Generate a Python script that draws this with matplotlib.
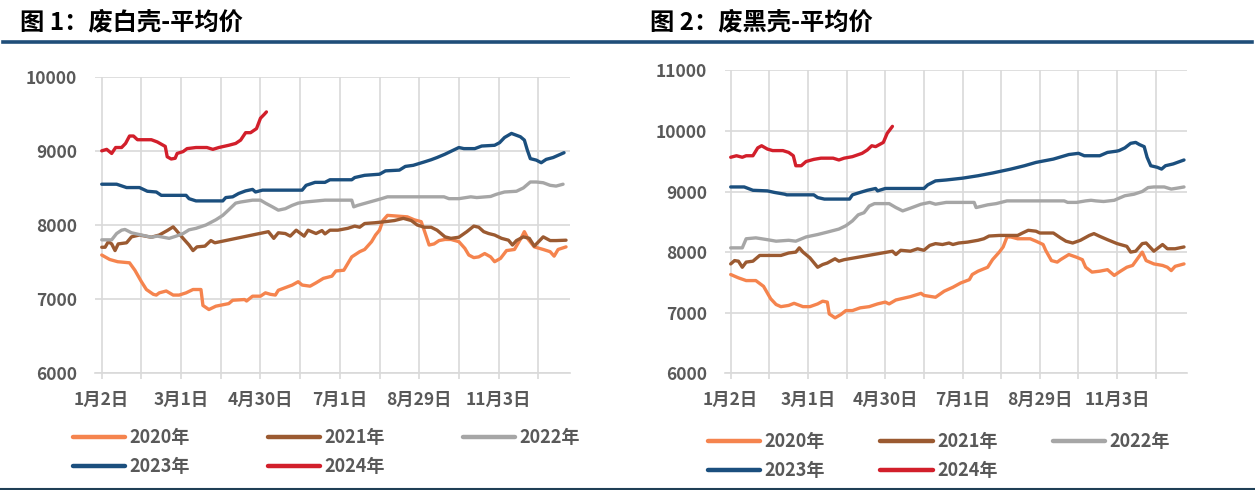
import matplotlib
matplotlib.use("Agg")
import matplotlib.pyplot as plt
from matplotlib.lines import Line2D
from matplotlib.ticker import MultipleLocator, FixedLocator

plt.rcParams['font.family'] = ['Noto Sans CJK SC', 'DejaVu Sans']

# ---------------- data ----------------
years = ['2020年', '2021年', '2022年', '2023年', '2024年']
colors = ['#F5844E', '#9B5A31', '#A6A6A6', '#1B4F7E', '#D21F2B']

tick_pos = [0, 40, 80, 120, 160, 200]
tick_labels = ['1月2日', '3月1日', '4月30日', '7月1日', '8月29日', '11月3日']

# 图1 废白壳 (left)
w2020_x = [0, 4, 8, 14, 16.7, 20, 22.5, 26, 27.5, 29, 32.5, 36, 39, 42.5, 46, 50, 51, 54, 57.5, 64, 66, 72, 73, 76, 80,
           82.5, 85, 87.5, 89, 96, 99, 101, 105, 108, 111.7, 116, 118, 122, 124, 126, 130, 132.5, 136, 138, 140, 141.7,
           144, 154, 157.5, 161, 162.5, 165, 167.5, 170, 173, 176, 180, 183, 185, 187.5, 190, 193, 196, 198, 201, 204,
           208, 211.7, 213, 215, 218, 222.5, 226, 228, 230, 234]
w2020_y = [7595, 7535, 7505, 7490, 7390, 7235, 7130, 7065, 7055, 7085, 7110, 7055, 7055, 7085, 7130, 7130, 6915, 6860,
           6905, 6940, 6985, 6995, 6975, 7040, 7040, 7085, 7065, 7055, 7120, 7190, 7235, 7190, 7175, 7220, 7280, 7310,
           7380, 7390, 7480, 7570, 7640, 7670, 7775, 7865, 7930, 8060, 8130, 8110, 8070, 8045, 7930, 7730, 7745, 7790,
           7805, 7805, 7775, 7685, 7595, 7560, 7570, 7615, 7570, 7505, 7550, 7655, 7670, 7840, 7910, 7805, 7705, 7670,
           7640, 7580, 7670, 7705]

w2021_x = [0, 1.7, 3.3, 5, 6.7, 8.3, 12.5, 15, 19, 25, 29, 33, 36, 37.5, 41, 44, 46, 48, 52, 55, 57, 84, 86.7, 89, 92.5,
           95, 98, 102, 104, 108, 111, 112.5, 115, 119, 124, 127.5, 130, 132.5, 137.5, 143, 147.5, 152, 156, 159, 162.5,
           166, 169, 173, 176, 180, 184, 187.5, 190, 192.5, 195, 198, 201.5, 205, 207, 209, 212.5, 215.5, 218, 222.5,
           226, 229, 234]
w2021_y = [7700, 7700, 7775, 7745, 7655, 7745, 7760, 7840, 7865, 7835, 7865, 7925, 7975, 7930, 7820, 7730, 7655, 7705,
           7715, 7790, 7760, 7910, 7820, 7895, 7885, 7850, 7930, 7850, 7930, 7885, 7925, 7880, 7930, 7930, 7955, 7985,
           7970, 8020, 8030, 8045, 8060, 8090, 8060, 8000, 7970, 7970, 7930, 7840, 7820, 7835, 7910, 7985, 7970, 7910,
           7885, 7865, 7820, 7795, 7730, 7790, 7840, 7820, 7715, 7840, 7790, 7790, 7795]

w2022_x = [0, 5, 7.5, 10, 11.7, 15, 20, 25, 28, 34, 37.5, 41, 44, 47.5, 52.5, 57.5, 61, 64, 67.5, 70, 76, 80, 82.5, 86,
           89, 92.5, 96, 99, 102.5, 112.5, 126, 127, 129, 133, 137, 141, 144, 172.5, 175, 180, 186, 189, 196, 199, 203,
           209, 212.5, 216, 219, 222.5, 226, 229, 232.5]
w2022_y = [7800, 7800, 7885, 7930, 7940, 7895, 7865, 7835, 7850, 7820, 7850, 7885, 7935, 7955, 8000, 8070, 8130, 8205,
           8295, 8310, 8335, 8335, 8295, 8245, 8200, 8220, 8265, 8295, 8310, 8335, 8335, 8245, 8265, 8295, 8325, 8355,
           8380, 8380, 8355, 8355, 8380, 8370, 8385, 8415, 8445, 8455, 8500, 8580, 8580, 8570, 8535, 8525, 8550]

w2023_x = [0, 7.5, 12.5, 19, 23, 27.5, 30, 42.5, 44, 47.5, 61, 62.5, 66, 69, 72.5, 76, 77.5, 81, 101, 103, 107.5, 112.5,
           115, 126, 127.5, 132.5, 140, 143, 150, 153, 157, 162.5, 166, 169, 173, 180, 182.5, 188, 191.5, 198, 200.5,
           203, 206.5, 209, 211, 213, 214.5, 216, 219, 221.5, 224, 227.5, 233]
w2023_y = [8550, 8550, 8505, 8505, 8455, 8445, 8400, 8400, 8355, 8325, 8325, 8370, 8380, 8425, 8460, 8480, 8445, 8470,
           8470, 8535, 8575, 8575, 8610, 8610, 8640, 8670, 8685, 8730, 8740, 8790, 8805, 8850, 8880, 8910, 8955, 9045,
           9030, 9030, 9065, 9075, 9110, 9180, 9235, 9210, 9190, 9145, 9010, 8895, 8875, 8840, 8885, 8910, 8975]

w2024_x = [0, 2.5, 5, 7, 10, 12, 14, 16, 18, 25, 28, 32, 33, 35, 37, 38, 41, 43, 47.5, 53, 56, 59, 64, 67.5, 70, 72.5,
           75, 78, 80, 82, 83]
w2024_y = [9000, 9020, 8965, 9045, 9045, 9100, 9200, 9200, 9150, 9150, 9120, 9060, 8920, 8890, 8900, 8965, 8990, 9030,
           9045, 9045, 9020, 9045, 9075, 9100, 9145, 9245, 9245, 9300, 9440, 9495, 9525]

# 图2 废黑壳 (right)
b2020_x = [0, 4, 8, 13, 17, 20.7, 23.5, 26, 30, 32.8, 37.4, 41, 45, 47.6, 50, 51, 54, 57, 59.6, 63, 67, 71.7, 76, 80,
           82, 85.5, 93, 98.5, 100, 106, 110.5, 115, 119, 123.5, 125, 128, 133, 135.5, 139, 141, 143, 145, 148.5, 155,
           158, 161.7, 163, 166, 169, 170.7, 173.5, 175, 179, 182, 183.7, 187, 191, 195, 198.5, 201, 205, 208, 210.5,
           213, 215, 219, 223.5, 226, 228, 230, 234.6]
b2020_y = [7630, 7575, 7530, 7530, 7435, 7230, 7135, 7100, 7120, 7155, 7100, 7100, 7145, 7190, 7175, 6980, 6915, 6970,
           7035, 7035, 7080, 7100, 7145, 7175, 7145, 7210, 7265, 7320, 7285, 7255, 7355, 7420, 7490, 7545, 7630, 7685,
           7750, 7875, 8000, 8085, 8250, 8250, 8220, 8220, 8180, 8125, 8030, 7860, 7835, 7875, 7930, 7960, 7915, 7875,
           7750, 7670, 7685, 7710, 7615, 7670, 7750, 7780, 7890, 8000, 7860, 7805, 7780, 7750, 7695, 7765, 7805]

b2021_x = [0, 2, 4, 6, 8, 11.5, 15, 19, 26, 30, 33.7, 35.5, 37.4, 41, 45, 47.6, 50, 54, 56, 58.7, 83.7, 85.5, 88, 93,
           96.7, 100, 103, 106, 109.6, 113, 115, 118, 122.6, 128, 131, 133.7, 139, 148.5, 151, 154, 158, 160, 167, 170.7,
           173.5, 177, 181, 185.6, 188, 191, 195, 200, 205, 207, 209.6, 213, 215, 219, 223.5, 226, 230, 234.6]
b2021_y = [7805, 7860, 7850, 7750, 7835, 7850, 7945, 7945, 7945, 7985, 8000, 8070, 8000, 7905, 7750, 7795, 7820, 7890,
           7850, 7875, 8015, 7960, 8030, 8015, 8055, 8030, 8110, 8140, 8125, 8150, 8125, 8150, 8165, 8195, 8220, 8265,
           8275, 8275, 8315, 8360, 8345, 8315, 8315, 8235, 8180, 8150, 8195, 8275, 8305, 8260, 8205, 8140, 8095, 8000,
           8015, 8140, 8150, 8015, 8125, 8055, 8055, 8085]

b2022_x = [0, 6, 8, 13, 19, 23.5, 30, 33.7, 39, 45, 50, 56, 59.6, 63, 66, 69, 71.7, 74.4, 82, 85.5, 89, 93, 98.5, 103,
           106, 111.5, 126, 127, 133, 137.4, 143, 172.6, 174.4, 179, 183.7, 186.5, 189, 193, 198.5, 201, 204, 208.7,
           213, 216, 219, 224.4, 228, 231, 234.6]
b2022_y = [8070, 8070, 8220, 8235, 8205, 8180, 8195, 8180, 8250, 8290, 8330, 8380, 8435, 8515, 8615, 8650, 8760, 8800,
           8800, 8735, 8680, 8725, 8790, 8820, 8790, 8820, 8820, 8735, 8780, 8800, 8845, 8845, 8820, 8820, 8845, 8855,
           8845, 8835, 8855, 8890, 8930, 8955, 9000, 9065, 9075, 9075, 9040, 9055, 9075]

b2023_x = [0, 7, 11.5, 19, 22.6, 28, 29, 43, 45, 48.5, 61.5, 63, 67, 70.7, 75, 76, 80, 100, 102, 106, 111.5, 120, 128,
           135.5, 145, 152, 158, 167, 175, 180, 183, 191, 195, 199.6, 201, 204, 207, 209.6, 211.5, 214, 215.5, 217.4,
           220.7, 223, 225, 229, 234.6]
b2023_y = [9075, 9075, 9020, 9010, 8985, 8955, 8945, 8945, 8900, 8875, 8875, 8945, 8985, 9020, 9050, 9010, 9050, 9050,
           9110, 9175, 9190, 9220, 9260, 9305, 9370, 9425, 9480, 9535, 9610, 9630, 9590, 9590, 9645, 9665, 9675, 9720,
           9795, 9810, 9775, 9740, 9565, 9425, 9400, 9370, 9425, 9455, 9520]

b2024_x = [0, 3, 6, 8, 11.5, 14, 16, 19, 21.7, 27, 30, 32.4, 33.7, 36.5, 39, 43, 46.7, 53, 56, 58.7, 63, 68, 70.7, 73,
           75, 79, 81, 83.7]
b2024_y = [9565, 9590, 9565, 9590, 9590, 9720, 9755, 9700, 9675, 9675, 9645, 9590, 9425, 9425, 9495, 9530, 9550, 9550,
           9520, 9550, 9575, 9630, 9685, 9755, 9740, 9810, 9960, 10075]

white_x = [w2020_x, w2021_x, w2022_x, w2023_x, w2024_x]
white_y = [w2020_y, w2021_y, w2022_y, w2023_y, w2024_y]
black_x = [b2020_x, b2021_x, b2022_x, b2023_x, b2024_x]
black_y = [b2020_y, b2021_y, b2022_y, b2023_y, b2024_y]

# ---------------- figure ----------------
W, H = 1255, 490
fig = plt.figure(figsize=(W / 100, H / 100), dpi=100)
fig.patch.set_facecolor('white')

TXT = '#595959'
GRID = '#D9D9D9'


def make_axes(rect, xs, ys, ymax, xmin):
    ax = fig.add_axes(rect)
    for x, y, c, lab in zip(xs, ys, colors, years):
        ax.plot(x, y, color=c, lw=2.4, label=lab, solid_capstyle='round', solid_joinstyle='round')
    ax.set_xlim(xmin, 236)
    ax.set_ylim(6000, ymax)
    ax.yaxis.set_major_locator(MultipleLocator(1000))
    ax.xaxis.set_major_locator(FixedLocator(tick_pos))
    ax.set_xticklabels(tick_labels)
    ax.xaxis.set_minor_locator(FixedLocator([p + 20 for p in tick_pos]))
    ax.grid(True, which='both', axis='x', color=GRID, lw=1.2)
    ax.grid(True, which='major', axis='y', color=GRID, lw=1.2)
    ax.set_axisbelow(True)
    for s in ['top', 'right', 'left']:
        ax.spines[s].set_visible(False)
    ax.spines['bottom'].set_color(GRID)
    ax.spines['bottom'].set_linewidth(1.2)
    ax.tick_params(axis='x', which='both', direction='out', length=4, width=1.2, color=GRID,
                   labelsize=12.5, labelcolor=TXT, pad=9)
    ax.tick_params(axis='y', length=0, labelsize=12.5, labelcolor=TXT, pad=13)
    for t in ax.get_xticklabels() + ax.get_yticklabels():
        t.set_fontweight('bold')
    return ax


ax1 = make_axes([95.0 / W, (H - 373.3) / H, 475.0 / W, 296.6 / H], white_x, white_y, 10000, -3.4)
ax2 = make_axes([725.0 / W, (H - 373.3) / H, 461.7 / W, 303.0 / H], black_x, black_y, 11000, -2.95)


def add_legend(ax, x0, yc, colsp):
    h, l = ax.get_legend_handles_labels()
    order = [0, 3, 1, 4, 2]
    leg = fig.legend([h[i] for i in order], [l[i] for i in order], ncol=3, loc='center left',
                     bbox_to_anchor=(x0 / W, 1 - yc / H), bbox_transform=fig.transFigure,
                     frameon=False, borderpad=0, borderaxespad=0, handlelength=2.9,
                     handletextpad=0.25, columnspacing=colsp, labelspacing=0.55,
                     prop={'size': 13, 'weight': 'bold'}, labelcolor=TXT)
    for ln in leg.get_lines():
        ln.set_linewidth(3.2)
    return leg


add_legend(ax1, 73, 452, 4.3)
add_legend(ax2, 708, 456, 3.05)

# titles
fig.text(20 / W, 1 - 22 / H, '图 1：废白壳-平均价', fontsize=17.5, fontweight='bold', color='black',
         va='center', ha='left')
fig.text(650 / W, 1 - 22 / H, '图 2：废黑壳-平均价', fontsize=17.5, fontweight='bold', color='black',
         va='center', ha='left')

# header and footer rules
fig.add_artist(Line2D([3 / W, 1252 / W], [1 - 42.5 / H, 1 - 42.5 / H], color='#1F4E79', lw=2.6,
                      transform=fig.transFigure))
fig.add_artist(Line2D([0, 1], [1 - 488.5 / H, 1 - 488.5 / H], color='#1F3F56', lw=1.5,
                      transform=fig.transFigure))

fig.savefig('out.png', dpi=100, facecolor='white')
